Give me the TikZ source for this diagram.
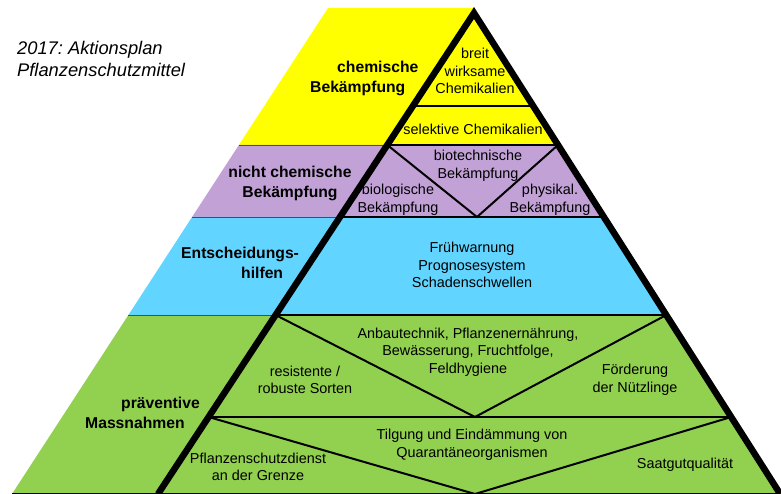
\documentclass[tikz,border=0pt]{standalone}
\usepackage{fontspec}
\setmainfont{Liberation Sans}
\frenchspacing

\definecolor{amarillo}{RGB}{255,255,0}
\definecolor{lila}{RGB}{194,161,214}
\definecolor{celeste}{RGB}{97,213,255}
\definecolor{verde}{RGB}{146,208,80}

\begin{document}
\begin{tikzpicture}[
		x=1pt, y=-1pt,
		% Estilos para lineas y textos:
		% sepFina: separacion entre bandas en la parte izquierda
		% lineaInt: lineas dentro del triangulo
		sepFina/.style={draw=black!70, line width=0.8pt},
		lineaInt/.style={draw=black, line width=2pt},
		lineaGruesa/.style={draw=black, line width=6.5pt, line join=miter},
		titulo/.style={font=\fontsize{18.3}{22}\selectfont\itshape, align=left, inner sep=0pt},
		etiqueta/.style={font=\fontsize{15.7}{20}\selectfont\bfseries, inner sep=0pt},
		myText/.style={font=\fontsize{14.4}{17.5}\selectfont, align=center, inner sep=0pt}
	]
	\useasboundingbox (0,0) rectangle (781,494);

	% --- 1. Puntos de la piramide ---
	% Vertice del triangulo y bordes exteriores
	\coordinate (A)  at (474,13);
	\coordinate (OT) at (328,8);
	\coordinate (AT) at (474,8);
	\coordinate (O1) at (238.9,145);
	\coordinate (O2) at (192.1,217);
	\coordinate (O3) at (128.4,315);
	\coordinate (OB) at (12,494);
	% Cortes con las lineas gruesas
	\coordinate (LY) at (412.9,106);  \coordinate (RY) at (533.2,106);
	\coordinate (L1) at (387.3,145);  \coordinate (R1) at (558.0,145);
	\coordinate (L2) at (340.0,217);  \coordinate (R2) at (603.9,217);
	\coordinate (L3) at (275.6,315);  \coordinate (R3) at (666.3,315);
	\coordinate (LG) at (208.6,417);  \coordinate (RG) at (731.2,417);
	\coordinate (BL) at (158,494);    \coordinate (BR) at (780.2,494);
	% Vertices de las V
	\coordinate (V1) at (477,217);
	\coordinate (V2) at (475,417);
	\coordinate (V3) at (475,494);

	% --- 2. Bandas de color ---
	\fill[amarillo] (OT) -- (AT) -- (R1) -- (O1) -- cycle;
	\fill[lila]     (O1) -- (R1) -- (R2) -- (O2) -- cycle;
	\fill[celeste]  (O2) -- (R2) -- (R3) -- (O3) -- cycle;
	\fill[verde]    (O3) -- (R3) -- (BR) -- (OB) -- cycle;

	% --- 3. Lineas ---
	\draw[sepFina] (O1) -- (L1);
	\draw[sepFina] (O2) -- (L2);
	\draw[sepFina] (O3) -- (L3);
	\draw[lineaInt] (OB) -- (BR);

	\draw[lineaInt] (LY) -- (RY);
	\draw[lineaInt] (L1) -- (R1);
	\draw[lineaInt] (L2) -- (R2);
	\draw[lineaInt] (L3) -- (R3);
	\draw[lineaInt] (LG) -- (RG);

	\draw[lineaInt] (L1) -- (V1) -- (R1);
	\draw[lineaInt] (L3) -- (V2) -- (R3);
	\draw[lineaInt] (LG) -- (V3) -- (RG);

	\draw[lineaGruesa] (BL) -- (A) -- (BR);

	% --- 4. Textos ---
	\node[titulo, anchor=west] (tit) at (17,59) {2017: Aktionsplan\\Pflanzenschutzmittel};

	\node[etiqueta, anchor=west, align=left] (chem) at (310,78) {\hspace*{27pt}chemische\\Bekämpfung};
	\node[etiqueta, align=center] (nchem) at (290,183) {nicht chemische\\Bekämpfung};
	\node[etiqueta, anchor=west, align=left] (entsch) at (181,263) {Entscheidungs-\\\hspace*{60pt}hilfen};
	\node[etiqueta, anchor=west, align=left] (prav) at (85,413) {\hspace*{36pt}präventive\\Massnahmen};

	\node[myText] (breit) at (475,71)  {breit\\wirksame\\Chemikalien};
	\node[myText] (selek) at (473,129) {selektive Chemikalien};

	\node[myText] (biotech) at (478,166) {biotechnische\\Bekämpfung};
	\node[myText] (biolog)  at (398,200) {biologische\\Bekämpfung};
	\node[myText] (physik)  at (550,200) {physikal.\\Bekämpfung};

	\node[myText] (fruh) at (472,265) {Frühwarnung\\Prognosesystem\\Schadenschwellen};

	\node[myText] (anbau) at (468,352) {Anbautechnik, Pflanzenernährung,\\Bewässerung, Fruchtfolge,\\Feldhygiene};
	\node[myText] (resist) at (305,380) {resistente /\\robuste Sorten};
	\node[myText] (forder) at (635,380) {Förderung\\der Nützlinge};

	\node[myText] (tilg)  at (472,445) {Tilgung und Eindämmung von\\Quarantäneorganismen};
	\node[myText] (psd)   at (258,467) {Pflanzenschutzdienst\\an der Grenze};
	\node[myText] (saat)  at (685,465) {Saatgutqualität};

\end{tikzpicture}
\end{document}
